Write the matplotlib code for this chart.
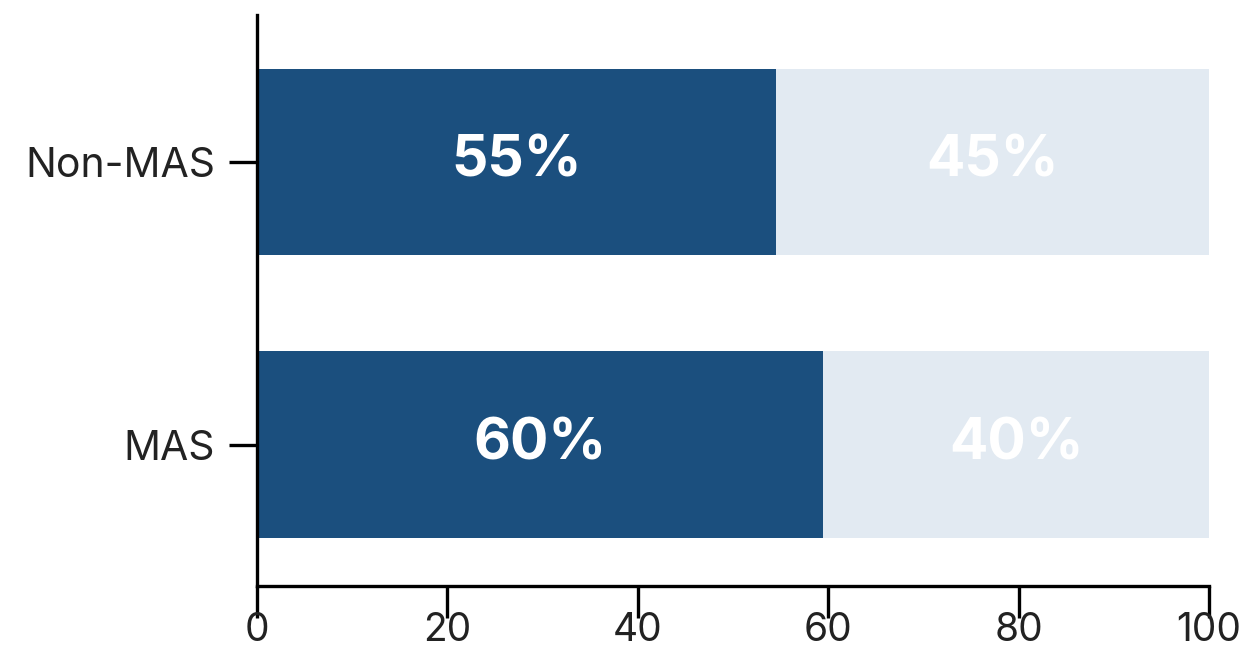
import numpy as np
import matplotlib.pyplot as plt

plt.rcParams['font.family'] = ['Inter', 'DejaVu Sans']

groups = ['MAS', 'Non-MAS']
yes_vals = [59.5, 54.5]
no_vals = [40.5, 45.5]
yes_labels = ['60%', '55%']
no_labels = ['40%', '45%']
x_ticks = [0, 20, 40, 60, 80, 100]

dark = '#1b4f7e'
light = '#e2eaf2'

fig = plt.figure(figsize=(12.41, 6.52), dpi=100)
ax = fig.add_axes([0.2071, 0.1012, 0.7671, 0.8758])

y = np.arange(len(groups))
ax.barh(y, yes_vals, height=0.66, color=dark)
ax.barh(y, no_vals, left=yes_vals, height=0.66, color=light)

# value labels in the middle of each segment
for i in range(len(groups)):
    ax.text(yes_vals[i] / 2, y[i], yes_labels[i], ha='center', va='center',
            color='white', fontsize=41, fontweight='bold')
    ax.text(yes_vals[i] + no_vals[i] / 2, y[i], no_labels[i], ha='center', va='center',
            color='white', fontsize=41, fontweight='bold')

ax.set_xlim(0, 100)
ax.set_ylim(-0.5, 1.52)
ax.set_xticks(x_ticks)
ax.set_yticks(y)
ax.set_yticklabels(groups)

for s in ['top', 'right']:
    ax.spines[s].set_visible(False)
for s in ['left', 'bottom']:
    ax.spines[s].set_linewidth(2.4)

ax.tick_params(axis='x', length=23, width=2.4, pad=-4, labelsize=28, labelcolor='#222222')
ax.tick_params(axis='y', length=20, width=2.4, pad=10, labelsize=29.5, labelcolor='#222222')

fig.savefig('out.png', dpi=100)
